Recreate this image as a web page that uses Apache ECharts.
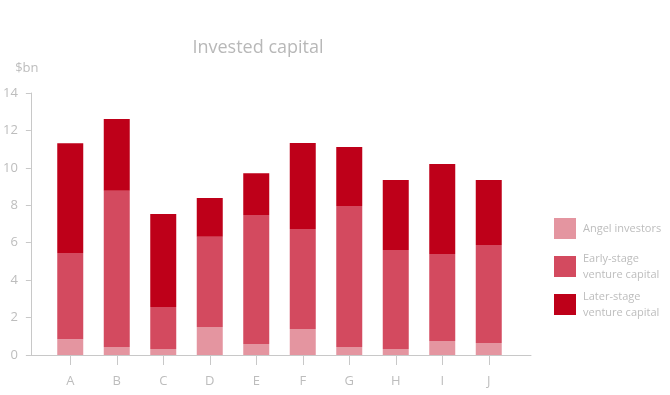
<!DOCTYPE html>
<html><head><meta charset="utf-8">
<script src="https://cdn.jsdelivr.net/npm/echarts@6/dist/echarts.min.js"></script>
<style>html,body{margin:0;padding:0;background:#fff}#c{width:670px;height:395px}</style>
</head><body><div id="c"></div>
<script>
const categories = ['A','B','C','D','E','F','G','H','I','J'];
const angelInvestors = [0.84, 0.43, 0.32, 1.50, 0.59, 1.39, 0.43, 0.32, 0.75, 0.64];
const earlyStage = [4.61, 8.35, 2.25, 4.82, 6.89, 5.34, 7.53, 5.29, 4.65, 5.24];
const laterStage = [5.86, 3.83, 4.97, 2.07, 2.23, 4.60, 3.16, 3.74, 4.81, 3.47];
const yTicks = [0, 2, 4, 6, 8, 10, 12, 14];
const seriesNames = ['Angel investors', 'Early-stage\nventure capital', 'Later-stage\nventure capital'];

const FONT = '"Open Sans", sans-serif';
const GREY = '#bdbdbd';
const LINE = '#c8c8c8';
const colors = ['#e495a0', '#d34a5f', '#be0019'];

const chart = echarts.init(document.getElementById('c'));
const legendTops = [218, 250.5, 288.5];
chart.setOption({
  animation: false,
  title: {
    text: 'Invested capital', left: 258, top: 39, textAlign: 'center', padding: 0,
    textStyle: { color: '#b8b8b8', fontSize: 18, fontWeight: 'normal', fontFamily: FONT }
  },
  legend: seriesNames.map((n, i) => ({
    data: [n], orient: 'vertical', left: 554, top: legendTops[i], padding: 0,
    itemWidth: 22, itemHeight: 21, icon: 'rect', selectedMode: false,
    textStyle: { color: GREY, fontSize: 11, lineHeight: 16, fontFamily: FONT, padding: [0, 0, 0, 2] }
  })),
  grid: [
    { left: 47, right: 158, top: 93, bottom: 40 },
    { left: 30, right: 139, top: 93, bottom: 40 }
  ],
  xAxis: [
    {
      type: 'category', gridIndex: 0, data: categories,
      axisLine: { show: false },
      axisTick: { show: true, alignWithLabel: true, length: 10, lineStyle: { color: LINE } },
      axisLabel: { color: GREY, fontSize: 13, fontFamily: FONT, margin: 20 }
    },
    {
      type: 'value', gridIndex: 1, min: 0, max: 1,
      axisLine: { show: true, lineStyle: { color: LINE } },
      axisTick: { show: false }, axisLabel: { show: false }, splitLine: { show: false }
    }
  ],
  yAxis: [
    { type: 'value', gridIndex: 0, min: 0, max: 14, interval: 2, show: false },
    {
      type: 'value', gridIndex: 1, min: yTicks[0], max: yTicks[yTicks.length - 1], interval: 2,
      name: '$bn', nameLocation: 'end', nameGap: 18,
      nameTextStyle: { color: GREY, fontSize: 13, fontFamily: FONT, padding: [0, 8, 0, 0] },
      axisLine: { show: true, lineStyle: { color: LINE } },
      axisTick: { show: true, inside: false, length: 5, lineStyle: { color: LINE } },
      axisLabel: { color: GREY, fontSize: 13, fontFamily: FONT, margin: 13 },
      splitLine: { show: false }
    }
  ],
  series: [angelInvestors, earlyStage, laterStage].map((d, i) => ({
    name: seriesNames[i], type: 'bar', stack: 'total', data: d,
    xAxisIndex: 0, yAxisIndex: 0, barWidth: 26,
    itemStyle: { color: colors[i] }
  }))
});
</script></body></html>
